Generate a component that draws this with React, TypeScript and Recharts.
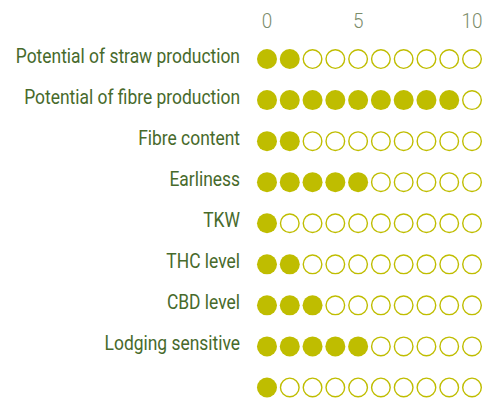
import { Scatter, ScatterChart, XAxis, YAxis } from 'recharts'

const categories = [
  'Potential of straw production',
  'Potential of fibre production',
  'Fibre content',
  'Earliness',
  'TKW',
  'THC level',
  'CBD level',
  'Lodging sensitive',
  '',
]
const scores = [2, 9, 2, 5, 1, 2, 3, 5, 1]
const slots = [1, 2, 3, 4, 5, 6, 7, 8, 9, 10]
const scaleTicks = [1, 5, 10]

const OLIVE = '#bfbd00'
const FONT = 'Roboto, sans-serif'

const points = categories.flatMap((_, row) =>
  slots.map((slot) => ({ slot, row, filled: slot <= scores[row] })),
)

function Dot(props: any) {
  const { cx, cy, payload } = props
  if (cx == null || cy == null) return null
  return payload.filled ? (
    <circle cx={cx} cy={cy} r={10} fill={OLIVE} />
  ) : (
    <circle cx={cx} cy={cy} r={9.3} fill="#fff" stroke={OLIVE} strokeWidth={1.4} />
  )
}

// narrow label, the reference uses a condensed face
function RowLabel(props: any) {
  const { x, y, payload } = props
  const text = categories[payload.value] ?? ''
  return (
    <text
      transform={`translate(${x},${y - 3.5}) scale(0.83,1)`}
      textAnchor="end"
      dominantBaseline="central"
      fill="#476a2b"
      fontSize={21}
      fontFamily={FONT}
    >
      {text}
    </text>
  )
}

function ScaleLabel(props: any) {
  const { x, y, payload } = props
  return (
    <text
      transform={`translate(${x},${y}) scale(0.9,1)`}
      textAnchor="middle"
      fill="#7b8c6b"
      fontSize={21}
      fontWeight={300}
      fontFamily={FONT}
    >
      {payload.value === 1 ? '0' : String(payload.value)}
    </text>
  )
}

function App() {
  return (
    <div
      style={{
        position: 'fixed',
        left: 0,
        top: 0,
        width: 501,
        height: 401,
        overflow: 'hidden',
        background: '#fff',
      }}
    >
      <ScatterChart
        width={501}
        height={408}
        margin={{ top: 0, right: 17.6, bottom: 0, left: 0 }}
      >
        <XAxis
          type="number"
          dataKey="slot"
          orientation="top"
          domain={[0.5, 10.5]}
          ticks={scaleTicks}
          height={38.5}
          axisLine={false}
          tickLine={false}
          tickSize={0}
          tickMargin={10.5}
          tick={<ScaleLabel />}
          interval={0}
        />
        <YAxis
          type="number"
          dataKey="row"
          domain={[-0.5, 8.5]}
          reversed
          ticks={categories.map((_, i) => i)}
          width={255.6}
          axisLine={false}
          tickLine={false}
          tickSize={0}
          tickMargin={15.6}
          tick={<RowLabel />}
          interval={0}
        />
        <Scatter data={points} shape={Dot} isAnimationActive={false} />
      </ScatterChart>
    </div>
  )
}

export default App
